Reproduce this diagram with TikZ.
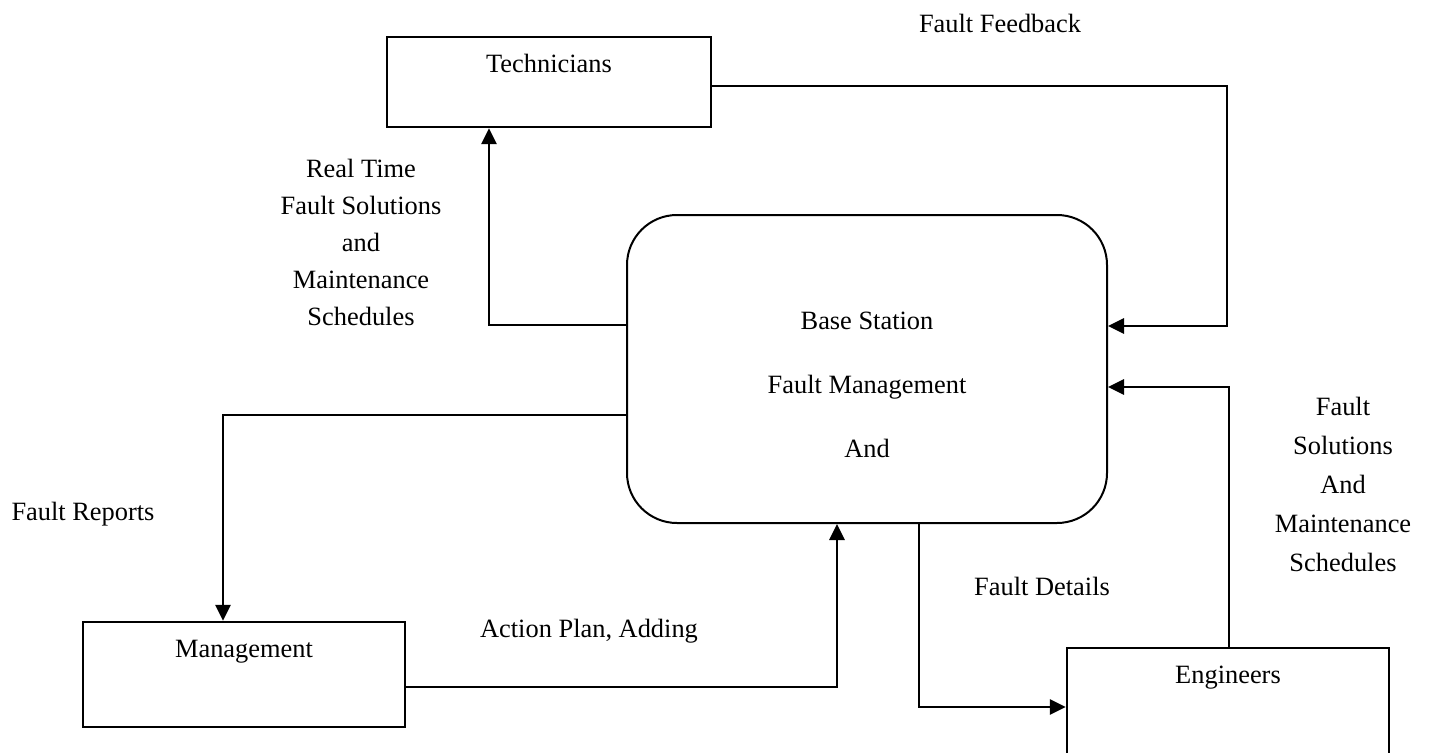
\documentclass[tikz,border=0pt]{standalone}
\usepackage{fontspec}
\setmainfont{Liberation Serif}
\usetikzlibrary{arrows.meta}

\tikzset{
  box/.style={draw, line width=2.4pt, inner sep=0pt},
  roundbox/.style={draw, line width=2pt, inner sep=0pt, rounded corners=50pt},
  conn/.style={line width=2.8pt, -{Triangle[length=16pt,width=15pt]}},
  lbl/.style={inner sep=0pt, anchor=base, align=center,
              font=\fontsize{26.4}{37}\selectfont},
  lblwide/.style={lbl, font=\fontsize{26.4}{39}\selectfont}
}

\begin{document}
\begin{tikzpicture}[x=1pt, y=-1pt]
\useasboundingbox (0,0) rectangle (1429,752);

% entities and the central process
\node[box, minimum width=324pt, minimum height=90pt]  (tech) at (549,82) {};
\node[box, minimum width=322pt, minimum height=105pt] (mgmt) at (244,674.5) {};
\node[box, minimum width=322pt, minimum height=142pt] (eng)  at (1228,719) {};
\node[roundbox, minimum width=480pt, minimum height=308pt] (bs) at (867,369) {};

% box titles (multi-line labels are placed by the baseline of their last line)
\node[lbl] (techtxt) at (549,73)  {Technicians};
\node[lbl] (mgmttxt) at (244,657) {Management};
\node[lbl] (engtxt)  at (1228,683) {Engineers};
\node[lbl, font=\fontsize{26.4}{64}\selectfont] (bstxt) at (867,457)
  {Base Station\\Fault Management\\And};

% bend points of the flows
\coordinate (c1) at (489,325);
\coordinate (c2) at (223,415);
\coordinate (c3) at (837,687);
\coordinate (c4) at (919,707);
\coordinate (c5) at (1229,387);
\coordinate (c6a) at (1227,86);
\coordinate (c6b) at (1227,326);

% data flows
\draw[conn] (c1 -| bs.west) -- (c1) -- (c1 |- tech.south);
\draw[conn] (c2 -| bs.west) -- (c2) -- (c2 |- mgmt.north);
\draw[conn] (c3 -| mgmt.east) -- (c3) -- (c3 |- bs.south);
\draw[conn] (c4 |- bs.south) -- (c4) -- (c4 -| eng.west);
\draw[conn] (c5 |- eng.north) -- (c5) -- (c5 -| bs.east);
\draw[conn] (c6a -| tech.east) -- (c6a) -- (c6b) -- (c6b -| bs.east);

% flow labels
\node[lbl] (fbk) at (1000,33) {Fault Feedback};
\node[lbl] (rt)  at (361,325)
  {Real Time\\Fault Solutions\\and\\Maintenance\\Schedules};
\node[lbl] (frep) at (83,520) {Fault Reports};
\node[lbl] (act)  at (589,637) {Action Plan, Adding};
\node[lbl] (fdet) at (1042,595) {Fault Details};
\node[lblwide] (fsol) at (1343,571)
  {Fault\\Solutions\\And\\Maintenance\\Schedules};
\end{tikzpicture}
\end{document}
